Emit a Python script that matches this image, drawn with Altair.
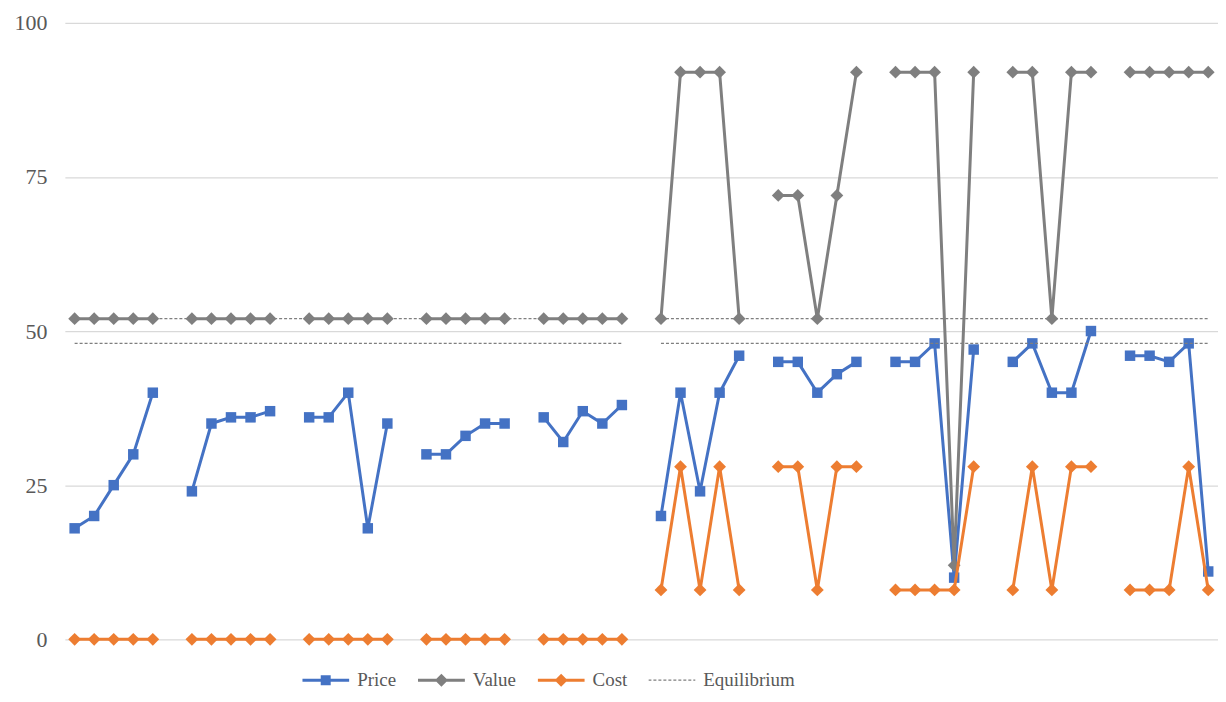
import altair as alt
import pandas as pd

price = [
    [18, 20, 25, 30, 40],
    [24, 35, 36, 36, 37],
    [36, 36, 40, 18, 35],
    [30, 30, 33, 35, 35],
    [36, 32, 37, 35, 38],
    [20, 40, 24, 40, 46],
    [45, 45, 40, 43, 45],
    [45, 45, 48, 10, 47],
    [45, 48, 40, 40, 50],
    [46, 46, 45, 48, 11],
]
value = [
    [52, 52, 52, 52, 52],
    [52, 52, 52, 52, 52],
    [52, 52, 52, 52, 52],
    [52, 52, 52, 52, 52],
    [52, 52, 52, 52, 52],
    [52, 92, 92, 92, 52],
    [72, 72, 52, 72, 92],
    [92, 92, 92, 12, 92],
    [92, 92, 52, 92, 92],
    [92, 92, 92, 92, 92],
]
cost = [
    [0, 0, 0, 0, 0],
    [0, 0, 0, 0, 0],
    [0, 0, 0, 0, 0],
    [0, 0, 0, 0, 0],
    [0, 0, 0, 0, 0],
    [8, 28, 8, 28, 8],
    [28, 28, 8, 28, 28],
    [8, 8, 8, 8, 28],
    [8, 28, 8, 28, 28],
    [8, 8, 8, 28, 8],
]
eq_levels = [52, 48]
eq_start = [1, 31]
eq_end = [29, 59]
series_names = ["Price", "Value", "Cost", "Equilibrium"]
series_colors = ["#4472C4", "#7F7F7F", "#ED7D31", "#7F7F7F"]
y_ticks = [0, 25, 50, 75, 100]

rows = []
for s, arr in (("Price", price), ("Value", value), ("Cost", cost)):
    for g, vals in enumerate(arr):
        for i, v in enumerate(vals):
            rows.append({"series": s, "group": g, "cat": g * 6 + i + 1, "val": v})
df = pd.DataFrame(rows)

eq_rows = []
for lvl in eq_levels:
    for a, b in zip(eq_start, eq_end):
        eq_rows.append({"series": "Equilibrium", "x1": a, "x2": b, "val": lvl})
eq = pd.DataFrame(eq_rows)

FONT = "Liberation Serif"
xs = alt.Scale(domain=[0.5, 59.5], nice=False, zero=False)
ys = alt.Scale(domain=[0, 100], nice=False, zero=True)
cscale = alt.Scale(domain=series_names, range=series_colors)
yaxis = alt.Axis(values=y_ticks, grid=True, gridColor="#d9d9d9", gridWidth=1.3,
                 domain=False, ticks=False, tickSize=0, labelPadding=18,
                 labelFont=FONT, labelFontSize=22, labelColor="#595959",
                 title=None, minExtent=57, maxExtent=57)

X = alt.X("cat:Q", scale=xs, axis=None)
Y = alt.Y("val:Q", scale=ys, axis=yaxis)
C = alt.Color("series:N", scale=cscale, legend=None)


def series_layers(name, shape, size):
    base = alt.Chart(df).transform_filter(alt.datum.series == name)
    line = base.mark_line(strokeWidth=3).encode(x=X, y=Y, detail="group:N", color=C)
    pts = base.mark_point(shape=shape, size=size, filled=True, opacity=1).encode(x=X, y=Y, color=C)
    return [line, pts]


eq_layer = alt.Chart(eq).mark_rule(strokeWidth=1.2, strokeDash=[3, 2]).encode(
    x=alt.X("x1:Q", scale=xs, axis=None), x2="x2:Q", y=Y, color=C)

# legend symbols (line + marker) as custom paths, normalised to [-1, 1]
SYM = 47.0
u = 2.0 / SYM


def rect(x0, x1, h):
    return f"M{x0:.4f},{-h:.4f}H{x1:.4f}V{h:.4f}H{x0:.4f}Z"


line_path = rect(-1, 1, 1.5 * u)
square_path = rect(-5 * u, 5 * u, 5 * u)
diamond_path = f"M0,{-6.5 * u:.4f}L{6.5 * u:.4f},0L0,{6.5 * u:.4f}L{-6.5 * u:.4f},0Z"
dash_parts = []
k = 0
while True:
    x0 = -1 + k * 5 * u
    if x0 >= 1:
        break
    dash_parts.append(rect(x0, min(x0 + 3 * u, 1), 0.6 * u))
    k += 1
legend_paths = [
    line_path + square_path,
    line_path + diamond_path,
    line_path + diamond_path,
    "".join(dash_parts),
]

LEG = alt.Legend(title=None, orient="none", legendX=238, legendY=648,
                 direction="horizontal", symbolSize=SYM * SYM, clipHeight=22,
                 labelOffset=8, columnPadding=21, labelFont=FONT, labelFontSize=19,
                 labelColor="#595959", symbolStrokeWidth=0, symbolOpacity=1)

legend_df = pd.DataFrame({"series": series_names, "cat": [1, 1, 1, 1], "val": [0, 0, 0, 0]})
legend_layer = alt.Chart(legend_df).mark_point(
    filled=True, opacity=0, size=SYM * SYM, strokeWidth=0).encode(
    x=X, y=Y,
    color=alt.Color("series:N", scale=cscale, legend=LEG),
    shape=alt.Shape("series:N", scale=alt.Scale(domain=series_names, range=legend_paths),
                    legend=LEG),
)

# legend layer first so its explicit legend settings take precedence when merged
layers = ([legend_layer]
          + series_layers("Price", "square", 110)
          + series_layers("Value", "diamond", 165)
          + series_layers("Cost", "diamond", 165)
          + [eq_layer])

chart = alt.layer(*layers).properties(
    width=1156, height=618,
    padding={"left": 0, "top": 3, "right": 0, "bottom": 0},
    background="white",
).configure_view(stroke=None)

chart.save("out.html", embed_options={"renderer": "svg", "actions": False})
